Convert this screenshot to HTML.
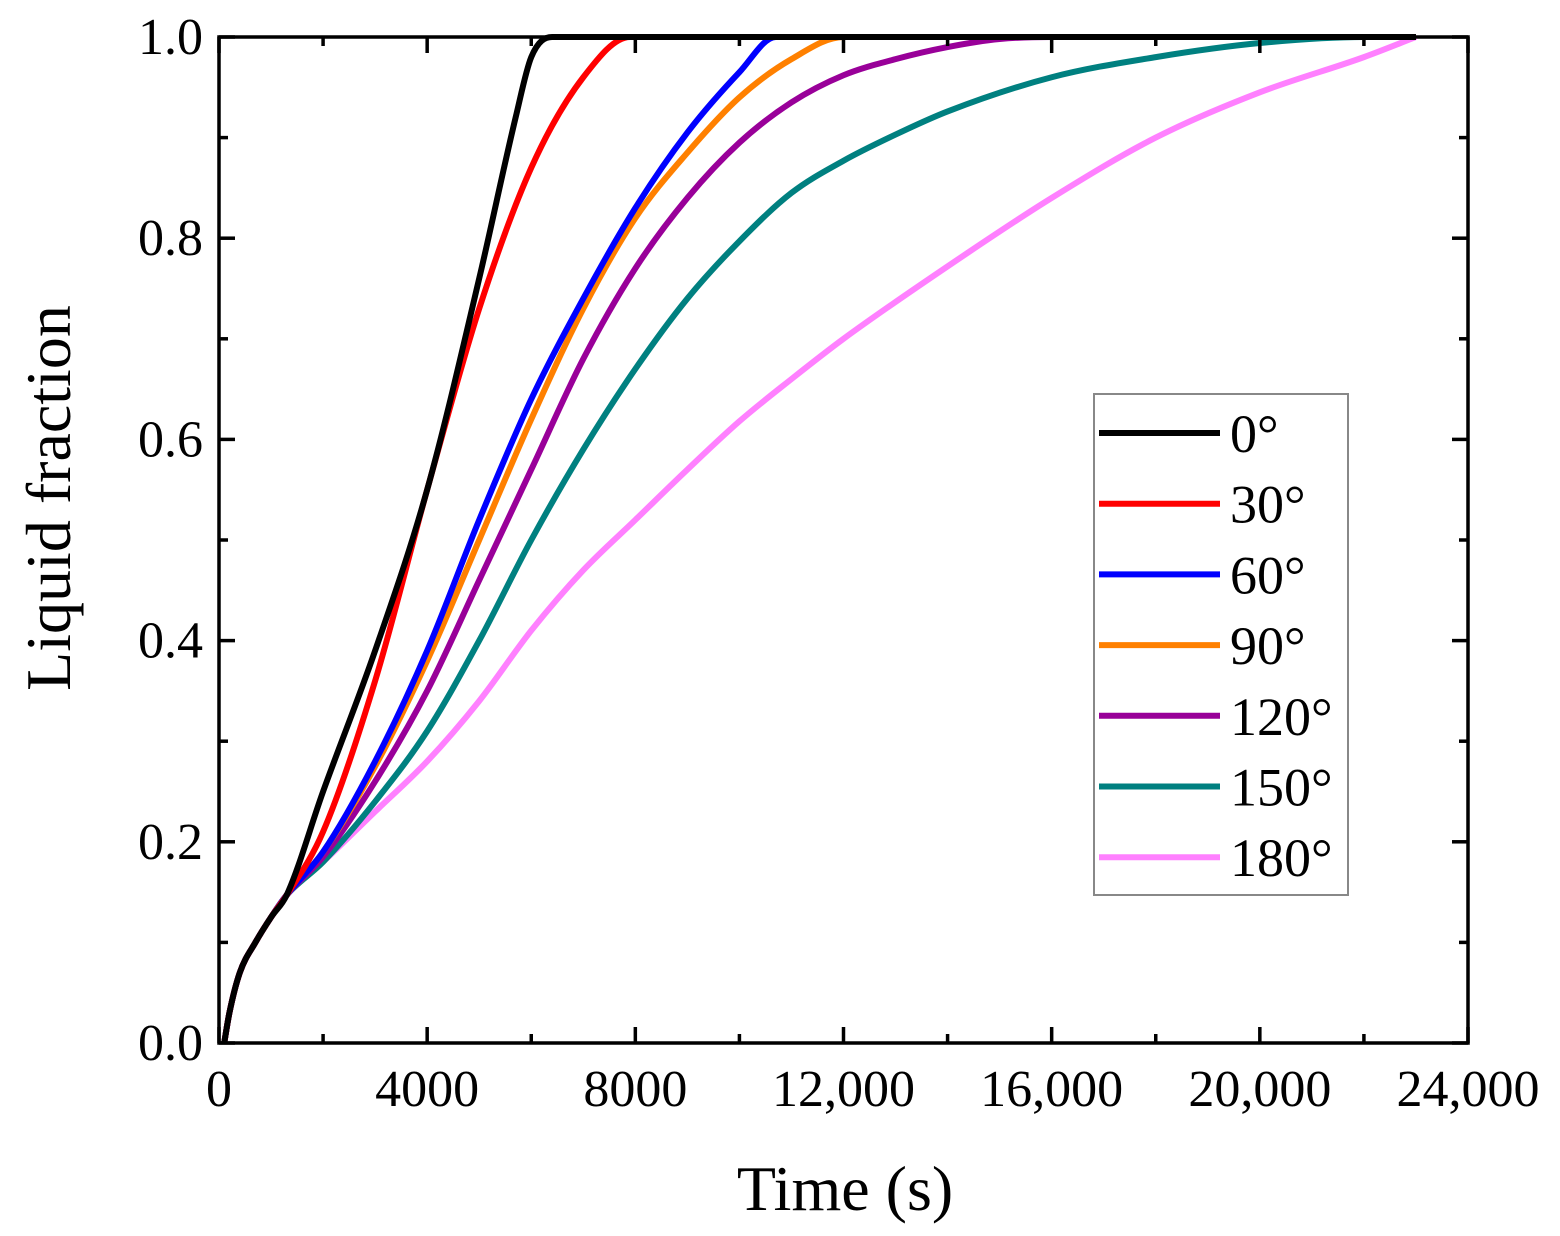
<!DOCTYPE html>
<html><head><meta charset="utf-8"><style>
body{margin:0;background:#fff;}
svg{display:block;font-family:"Liberation Serif",serif;}
</style></head><body>
<svg id="chart" width="1560" height="1236" viewBox="0 0 1560 1236">
<g id="plot"></g>
</svg>
<script>
const xTicks=[0,4000,8000,12000,16000,20000,24000];
const xTickLabels=["0","4000","8000","12,000","16,000","20,000","24,000"];
const yTicks=[0,0.2,0.4,0.6,0.8,1.0];
const yTickLabels=["0.0","0.2","0.4","0.6","0.8","1.0"];
const seriesNames=["0°","30°","60°","90°","120°","150°","180°"];
const seriesColors=["#000000","#ff0000","#0000ff","#ff8000","#990099","#008080","#ff80ff"];
const startX=[100,200,400,700,1000,1300];
const startY=[0,0.03,0.07,0.1,0.125,0.147];
const s0x=[2000,3000,4000,5000,5700,6000,6400,23000];
const s0y=[0.25,0.39,0.55,0.76,0.92,0.98,1.0,1.0];
const s1x=[2000,3000,4000,5000,6000,7000,7900,23000];
const s1y=[0.21,0.36,0.55,0.73,0.87,0.96,1.0,1.0];
const s2x=[2000,3000,4000,5000,6000,7000,8000,9000,10000,10700,23000];
const s2y=[0.19,0.28,0.39,0.52,0.64,0.74,0.83,0.905,0.965,1.0,1.0];
const s3x=[2000,3000,4000,5000,6000,7000,8000,9000,10000,11000,12000,23000];
const s3y=[0.19,0.275,0.38,0.5,0.62,0.73,0.82,0.885,0.94,0.978,1.0,1.0];
const s4x=[2000,3000,4000,5000,6000,7000,8000,9000,10000,11000,12000,13000,14000,15000,16000,23000];
const s4y=[0.185,0.26,0.35,0.46,0.57,0.68,0.77,0.84,0.895,0.935,0.962,0.978,0.99,0.998,1.0,1.0];
const s5x=[2000,3000,4000,5000,6000,7000,8000,9000,10000,11000,12000,13000,14000,16000,18000,20000,22000,23000];
const s5y=[0.18,0.24,0.31,0.4,0.5,0.59,0.67,0.74,0.797,0.845,0.877,0.903,0.926,0.96,0.98,0.994,1.0,1.0];
const s6x=[2000,3000,4000,5000,6000,7000,8000,9000,10000,11000,12000,14000,16000,18000,20000,22000,23000];
const s6y=[0.18,0.23,0.28,0.34,0.41,0.47,0.52,0.57,0.618,0.66,0.7,0.772,0.84,0.9,0.945,0.98,1.0];
const seriesX=[s0x,s1x,s2x,s3x,s4x,s5x,s6x];
const seriesY=[s0y,s1y,s2y,s3y,s4y,s5y,s6y];

const L=219,R=1468,T=37,B=1043;
const sx=v=>L+(v/24000)*(R-L);
const sy=v=>B-v*(B-T);
const NS="http://www.w3.org/2000/svg";
const g=document.getElementById('plot');
function el(tag,attrs,parent){const e=document.createElementNS(NS,tag);for(const k in attrs)e.setAttribute(k,attrs[k]);(parent||g).appendChild(e);return e;}

function monoPath(xs,ys){
  const n=xs.length,d=[],m=[];
  for(let i=0;i<n-1;i++)d.push((ys[i+1]-ys[i])/(xs[i+1]-xs[i]));
  m[0]=d[0];m[n-1]=d[n-2];
  for(let i=1;i<n-1;i++){m[i]=(d[i-1]*d[i]<=0)?0:(d[i-1]+d[i])/2;}
  for(let i=0;i<n-1;i++){if(d[i]===0){m[i]=0;m[i+1]=0;continue;}
    const a=m[i]/d[i],b=m[i+1]/d[i],h=a*a+b*b;if(h>9){const t=3/Math.sqrt(h);m[i]=t*a*d[i];m[i+1]=t*b*d[i];}}
  let p="M"+sx(xs[0])+","+sy(ys[0]);
  for(let i=0;i<n-1;i++){const h=(xs[i+1]-xs[i])/3;
    p+=" C"+sx(xs[i]+h)+","+sy(ys[i]+m[i]*h)+" "+sx(xs[i+1]-h)+","+sy(ys[i+1]-m[i+1]*h)+" "+sx(xs[i+1])+","+sy(ys[i+1]);}
  return p;
}

for(let k=seriesNames.length-1;k>=0;k--){
  const xs=startX.concat(seriesX[k]),ys=startY.concat(seriesY[k]);
  const p=el('path',{d:monoPath(xs,ys),fill:'none',stroke:seriesColors[k],'stroke-width':6,'stroke-linejoin':'round'});
  
  
}

const fr=el('rect',{x:L,y:T,width:R-L,height:B-T,fill:'none',stroke:'#000','stroke-width':3.5});



for(let i=0;i<xTicks.length;i++){
  const x=sx(xTicks[i]);
  el('line',{x1:x,y1:B,x2:x,y2:B-16,stroke:'#000','stroke-width':3.5});
  el('line',{x1:x,y1:T,x2:x,y2:T+16,stroke:'#000','stroke-width':3.5});
  if(i<xTicks.length-1){const xm=sx(xTicks[i]+2000);
    el('line',{x1:xm,y1:B,x2:xm,y2:B-9,stroke:'#000','stroke-width':3.5});
    el('line',{x1:xm,y1:T,x2:xm,y2:T+9,stroke:'#000','stroke-width':3.5});}
  const t=el('text',{x:x,y:1106,'font-size':52,'text-anchor':'middle',fill:'#000'});
  t.textContent=xTickLabels[i];
  
  
}
for(let i=0;i<yTicks.length;i++){
  const y=sy(yTicks[i]);
  el('line',{x1:L,y1:y,x2:L+16,y2:y,stroke:'#000','stroke-width':3.5});
  el('line',{x1:R,y1:y,x2:R-16,y2:y,stroke:'#000','stroke-width':3.5});
  if(i<yTicks.length-1){const ym=sy(yTicks[i]+0.1);
    el('line',{x1:L,y1:ym,x2:L+9,y2:ym,stroke:'#000','stroke-width':3.5});
    el('line',{x1:R,y1:ym,x2:R-9,y2:ym,stroke:'#000','stroke-width':3.5});}
  const t=el('text',{x:203,y:y+17,'font-size':52,'text-anchor':'end',fill:'#000'});
  t.textContent=yTickLabels[i];
  
  
}
const xt=el('text',{x:845,y:1210,'font-size':64,'text-anchor':'middle',fill:'#000'});
xt.textContent='Time (s)';


const yt=el('text',{x:0,y:0,'font-size':64,'text-anchor':'middle',fill:'#000',transform:'translate(70,498) rotate(-90)'});
yt.textContent='Liquid fraction';



const lg=el('g',{});


el('rect',{x:1094,y:394,width:254,height:501,fill:'#fff',stroke:'#888','stroke-width':2},lg);
for(let k=0;k<seriesNames.length;k++){
  const y=433+k*70.7;
  const e=el('g',{},lg);
  
  
  el('line',{x1:1099,y1:y,x2:1220,y2:y,stroke:seriesColors[k],'stroke-width':6},e);
  const t=el('text',{x:1230,y:y+19,'font-size':54,fill:'#000'},e);
  t.textContent=seriesNames[k];
}
</script>
</body></html>
